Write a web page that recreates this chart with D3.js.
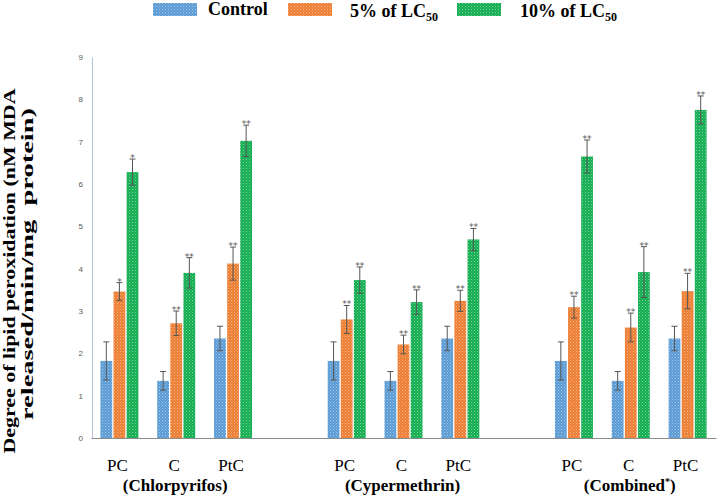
<!DOCTYPE html>
<html>
<head>
<meta charset="utf-8">
<script src="https://cdn.jsdelivr.net/npm/d3@7"></script>
<style>
  body { margin: 0; background: #fff; }
  svg { display: block; }
  .serif { font-family: "Liberation Serif", "Times New Roman", serif; }
</style>
</head>
<body>
<svg id="chart"></svg>
<script>
// data
var groups = ["Chlorpyrifos", "Cypermethrin", "Combined"];
var subLabels = ["PC", "C", "PtC"];
var series = ["Control", "5% of LC", "10% of LC"];

// values per group, in the order PC, C, PtC
var controlVals = [[1.82, 1.35, 2.35], [1.82, 1.35, 2.35], [1.82, 1.35, 2.35]];
var lc5Vals     = [[3.46, 2.71, 4.12], [2.80, 2.21, 3.24], [3.09, 2.61, 3.47]];
var lc10Vals    = [[6.28, 3.90, 7.02], [3.73, 3.21, 4.69], [6.65, 3.92, 7.75]];

var controlErr = [[0.45, 0.22, 0.29], [0.45, 0.22, 0.29], [0.45, 0.22, 0.29]];
var lc5Err     = [[0.21, 0.29, 0.39], [0.33, 0.22, 0.25], [0.26, 0.34, 0.42]];
var lc10Err    = [[0.31, 0.36, 0.37], [0.31, 0.29, 0.26], [0.39, 0.60, 0.33]];

var lc5Sig  = [["*", "**", "**"], ["**", "**", "**"], ["**", "**", "**"]];
var lc10Sig = [["*", "**", "**"], ["**", "**", "**"], ["**", "**", "**"]];

var yTicks = [0, 1, 2, 3, 4, 5, 6, 7, 8, 9];

// size
var size = { width: 717, height: 495 };
var margin = { top: 57, right: 1, bottom: 57, left: 91 };

var colors = ["#5b9bd5", "#ed7d31", "#12ad50"];

var svg = d3.select("#chart")
  .attr("width", size.width)
  .attr("height", size.height);

// dotted fill like the original
var defs = svg.append("defs");
colors.forEach(function(c, i){
  var p = defs.append("pattern")
    .attr("id", "pat" + i)
    .attr("width", 3)
    .attr("height", 3)
    .attr("patternUnits", "userSpaceOnUse");
  p.append("rect").attr("width", 3).attr("height", 3).attr("fill", c);
  p.append("rect").attr("x", 0).attr("y", 0).attr("width", 1).attr("height", 1)
    .attr("fill", "#fff").attr("opacity", 0.45);
  p.append("rect").attr("x", 1.5).attr("y", 1.5).attr("width", 1).attr("height", 1)
    .attr("fill", "#fff").attr("opacity", 0.3);
});

// slots: 3 subgroups per group with a blank slot between groups
var slots = [];
groups.forEach(function(g, gi){
  subLabels.forEach(function(s, si){ slots.push(g + "|" + s); });
  if(gi < groups.length - 1) slots.push("gap" + gi);
});

var x0 = d3.scaleBand()
  .domain(slots)
  .range([margin.left, size.width - margin.right]);

var x1 = d3.scaleBand()
  .domain(series)
  .range([0, 38])
  .paddingInner(0.1);

var groupOffset = (x0.bandwidth() - 38) / 2;

var y = d3.scaleLinear()
  .domain([0, 9])
  .range([size.height - margin.bottom, margin.top]);

// build rows for drawing
var rows = [];
groups.forEach(function(g, gi){
  subLabels.forEach(function(s, si){
    var key = g + "|" + s;
    rows.push({ slot: key, s: 0, v: controlVals[gi][si], e: controlErr[gi][si], sig: "" });
    rows.push({ slot: key, s: 1, v: lc5Vals[gi][si], e: lc5Err[gi][si], sig: lc5Sig[gi][si] });
    rows.push({ slot: key, s: 2, v: lc10Vals[gi][si], e: lc10Err[gi][si], sig: lc10Sig[gi][si] });
  });
});

function barX(d){ return x0(d.slot) + groupOffset + x1(series[d.s]); }
function barC(d){ return barX(d) + x1.bandwidth() / 2; }

// y axis
var yAxis = d3.axisLeft(y)
  .tickValues(yTicks)
  .tickSize(0)
  .tickPadding(9)
  .tickFormat(d3.format("d"));

var gy = svg.append("g")
  .attr("transform", "translate(" + (margin.left + 1) + ",0)")
  .call(yAxis);
gy.select(".domain").attr("stroke", "#b4c3d3");
gy.selectAll("text")
  .attr("fill", "#595959")
  .attr("font-family", "Liberation Sans, Arial, sans-serif")
  .attr("font-size", 8);

// bars
svg.append("g").selectAll("rect")
  .data(rows)
  .enter()
  .append("rect")
  .attr("x", barX)
  .attr("y", function(d){ return y(d.v); })
  .attr("width", x1.bandwidth())
  .attr("height", function(d){ return y(0) - y(d.v); })
  .attr("fill", function(d){ return "url(#pat" + d.s + ")"; });

// x axis line
var xAxis = d3.axisBottom(x0).tickSize(0).tickFormat("");
var gx = svg.append("g")
  .attr("transform", "translate(0," + y(0) + ")")
  .call(xAxis);
gx.select(".domain").attr("stroke", "#8c8c8c").attr("stroke-width", 1.2);
gx.selectAll(".tick").remove();

// error bars
var err = svg.append("g").attr("stroke", "#555").attr("stroke-width", 1);
rows.forEach(function(d){
  var cx = barC(d);
  err.append("line").attr("x1", cx).attr("x2", cx)
    .attr("y1", y(d.v + d.e)).attr("y2", y(d.v - d.e));
  err.append("line").attr("x1", cx - 3).attr("x2", cx + 3)
    .attr("y1", y(d.v + d.e)).attr("y2", y(d.v + d.e));
  err.append("line").attr("x1", cx - 3).attr("x2", cx + 3)
    .attr("y1", y(d.v - d.e)).attr("y2", y(d.v - d.e));
});

// significance stars
svg.append("g").selectAll("text")
  .data(rows.filter(function(d){ return d.sig; }))
  .enter()
  .append("text")
  .attr("x", barC)
  .attr("y", function(d){ return y(d.v + d.e) + 2; })
  .attr("text-anchor", "middle")
  .attr("fill", "#555")
  .attr("font-family", "DejaVu Sans, sans-serif")
  .attr("font-size", 9)
  .text(function(d){ return d.sig; });

// sub labels and group labels
groups.forEach(function(g, gi){
  subLabels.forEach(function(s){
    svg.append("text")
      .attr("class", "serif")
      .attr("x", x0(g + "|" + s) + x0.bandwidth() / 2 - 2)
      .attr("y", 471)
      .attr("text-anchor", "middle")
      .attr("font-size", 17)
      .text(s);
  });
  var t = svg.append("text")
    .attr("class", "serif")
    .attr("x", x0(g + "|C") + x0.bandwidth() / 2 - 1)
    .attr("y", 491)
    .attr("text-anchor", "middle")
    .attr("font-size", 17)
    .attr("font-weight", "bold");
  if(g == "Combined"){
    t.append("tspan").text("(" + g);
    t.append("tspan").attr("dy", -6).attr("font-size", 10).text("*");
    t.append("tspan").attr("dy", 6).text(")");
  } else {
    t.text("(" + g + ")");
  }
});

// y title
var ty = svg.append("g")
  .attr("class", "serif")
  .attr("font-size", 17)
  .attr("font-weight", "bold");
ty.append("text")
  .attr("transform", "translate(15,271) rotate(-90)")
  .attr("text-anchor", "middle")
  .attr("textLength", 365)
  .attr("lengthAdjust", "spacingAndGlyphs")
  .text("Degree of lipid peroxidation (nM MDA");
ty.append("text")
  .attr("transform", "translate(33,264) rotate(-90)")
  .attr("text-anchor", "middle")
  .attr("textLength", 312)
  .attr("lengthAdjust", "spacingAndGlyphs")
  .style("white-space", "pre")
  .text("released/min/mg  protein)");

// legend
var legendX = [153, 288, 457];
var legendTextX = [208, 350, 520];
var legend = svg.append("g")
  .attr("class", "serif")
  .attr("font-size", 18)
  .attr("font-weight", "bold");
series.forEach(function(s, i){
  legend.append("rect")
    .attr("x", legendX[i])
    .attr("y", 3)
    .attr("width", 44)
    .attr("height", 13)
    .attr("fill", "url(#pat" + i + ")");
  var t = legend.append("text")
    .attr("x", legendTextX[i])
    .attr("y", i == 0 ? 15 : 17);
  t.append("tspan").text(s);
  if(i > 0){
    t.append("tspan").attr("dy", 4).attr("font-size", 12).text("50");
  }
});
</script>
</body>
</html>
